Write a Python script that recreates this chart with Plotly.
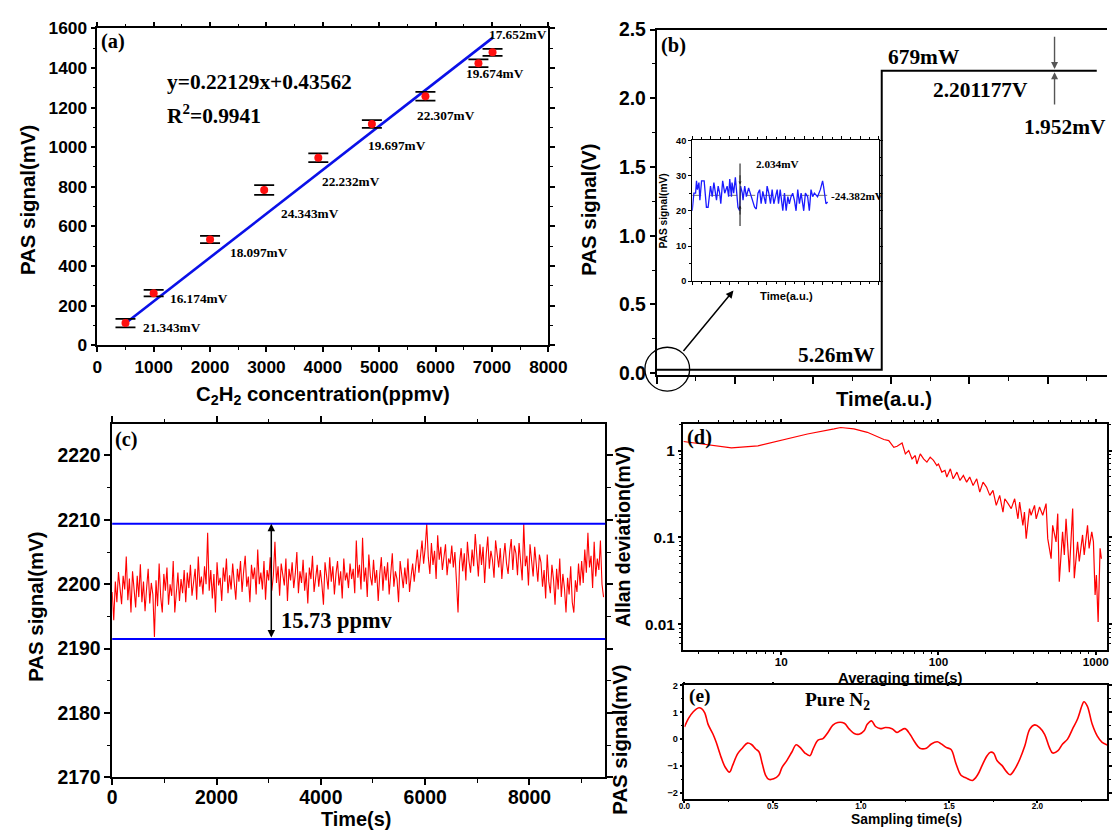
import plotly.graph_objects as go

# ---- page geometry --------------------------------------------------------
# The page keeps the browser's 8px body margin and the captured picture comes
# out slightly reduced, so reference pixel positions are mapped through that.
OFF = 8
SX = 0.984             # horizontal: picture = SX * page
AY, BY = 0.9775, 8.8   # vertical:   picture = AY * page + BY
W, H = 1118, 822
FS = 1.02  # font compensation for the reduction
SERIF = "Liberation Serif"
SANS = "Liberation Sans"
R_XMAX = SX * (W + OFF)  # right-most reachable reference x


def px(x):
    return (x / SX - OFF) / W


def py(y):
    return 1 - ((y - BY) / AY - OFF) / H


def fs(s):
    return round(s * FS, 1)


# ---------------- (a) calibration ----------------
conc_a = [500, 1000, 2000, 2960, 3920, 4870, 5820, 6760, 7010]
pas_a = [112, 263, 534, 784, 947, 1117, 1257, 1424, 1479]
err_a = [21.343, 16.174, 18.097, 24.343, 22.232, 19.697, 22.307, 19.674, 17.652]
err_text_a = ["21.343mV", "16.174mV", "18.097mV", "24.343mV", "22.232mV",
              "19.697mV", "22.307mV", "19.674mV", "17.652mV"]
fit_x_a = [500, 7010]
fit_y_a = [111, 1552]
xticks_a = [0, 1000, 2000, 3000, 4000, 5000, 6000, 7000, 8000]
yticks_a = [0, 200, 400, 600, 800, 1000, 1200, 1400, 1600]

# ---------------- (b) step response ----------------
time_b = [0, 2.88, 2.88, 5.63]
pas_b = [0.024, 0.024, 2.201, 2.201]
yticks_b = [0.0, 0.5, 1.0, 1.5, 2.0, 2.5]
noise_b = [2.459, 1.945]  # ends of the 1.952mV marker (V)
noise_x_b = 5.09

# inset of (b)
time_in = [0, 0.9, 1.8, 2.3, 2.8, 3.6, 4.1, 5.0, 6.4, 7.6, 8.5, 9.8, 10.7, 11.6,
           13.0, 13.9, 14.7, 15.3, 16.3, 17.4, 18.7, 19.5, 20.1, 21.0, 21.3, 22.2,
           23.1, 24.0, 24.5, 25.4, 25.9, 26.8, 27.2, 28.1, 29.0, 30.2, 31.1, 32.0,
           33.4, 34.3, 35.2, 36.1, 36.9, 37.8, 38.4, 39.3, 40.1, 41.0, 41.9, 42.8,
           43.7, 44.6, 45.5, 46.2, 47.1, 48.5, 49.4, 50.3, 51.2, 52.0, 52.9, 53.8,
           54.7, 55.6, 56.5, 57.4, 58.3, 59.7, 60.6, 61.8, 62.7, 63.6, 64.5, 65.4,
           67.1, 68.6, 69.8, 70.3, 71.1, 71.6, 72.5]
pas_in = [20, 25, 25, 28.5, 26, 28, 23, 28.5, 28.5, 21, 21, 27, 24, 28,
          23, 27, 25, 22, 28.5, 25, 27, 24, 29, 24, 28, 25,
          29.5, 25, 21, 20, 27, 25, 23, 27, 24, 26.5, 25, 24,
          21, 20.5, 25, 26, 22, 25.5, 24, 22, 27, 25, 22, 26,
          22, 24, 26, 22, 26, 20, 25, 20, 24, 22, 24, 25,
          23, 20, 26, 22, 25, 20, 25, 24, 20, 26, 24, 25,
          24, 26, 28.5, 27, 24, 22, 22.5]
mean_in = 24.382
mean_span_in = [0, 73.5]
marker_x_in = 25.6
marker_in = [15.7, 33.4]
yticks_in = [0, 10, 20, 30, 40]

# ---------------- (c) long-term stability ----------------
pas_c = [
    2198.8, 2194.4, 2200.4, 2197.2, 2201.9, 2198.8, 2196.9, 2201.3, 2199.2, 2204.3,
    2197.5, 2200.9, 2195.6, 2202.0, 2199.6, 2196.4, 2201.3, 2198.0, 2203.1, 2197.2,
    2200.4, 2195.8, 2199.4, 2202.4, 2197.0, 2200.2, 2198.4, 2191.8, 2200.6, 2196.6,
    2203.2, 2198.0, 2195.6, 2201.6, 2199.0, 2202.6, 2196.8, 2200.0, 2198.2, 2203.6,
    2195.6, 2199.6, 2201.8, 2197.4, 2200.8, 2198.6, 2202.2,
    2197.2, 2201.8, 2199.4, 2203.0, 2198.2, 2200.8, 2202.4, 2197.6, 2204.3, 2199.6,
    2201.2, 2198.4, 2202.8, 2200.0, 2208.0, 2199.0, 2202.2, 2197.8, 2201.6, 2195.6,
    2203.4, 2199.8, 2201.0, 2197.4, 2202.6, 2200.4, 2204.0, 2198.6, 2201.4, 2199.2,
    2203.2, 2200.2, 2197.6, 2202.4,
    2200.4, 2203.6, 2198.8, 2202.0, 2204.4, 2199.6, 2201.2, 2197.2, 2203.0, 2200.8,
    2202.6, 2198.4, 2205.4, 2200.0, 2201.8, 2199.2, 2203.6, 2197.6, 2202.2, 2200.6,
    2204.2, 2199.0, 2201.4, 2206.6, 2200.2, 2202.8, 2198.2, 2203.2, 2201.0, 2199.8,
    2204.0, 2197.4, 2202.4, 2200.6, 2203.4, 2199.4, 2201.6, 2205.0, 2198.6, 2202.0,
    2200.2, 2203.8, 2199.0, 2201.8, 2197.0, 2202.6, 2200.8, 2204.4, 2198.8, 2201.2,
    2203.0, 2199.6, 2202.2, 2200.0, 2196.8, 2203.4, 2201.4, 2199.2, 2204.2, 2200.4,
    2202.8, 2198.4, 2201.6, 2203.6, 2199.8, 2202.0, 2197.8, 2204.0, 2200.6, 2201.8,
    2199.4, 2203.2, 2200.8, 2202.4, 2198.6, 2206.8, 2201.0, 2203.0, 2199.2, 2207.2,
    2200.4, 2202.6, 2198.0, 2204.6, 2201.2, 2199.8, 2203.8, 2200.2, 2202.2, 2197.4,
    2201.6, 2204.2, 2199.0, 2202.8, 2200.6, 2203.4, 2198.4, 2201.4, 2204.8, 2199.6,
    2202.0, 2200.8, 2197.2, 2203.6, 2201.8, 2199.4, 2202.6, 2200.0, 2204.0, 2198.8,
    2201.2, 2203.2, 2200.4,
    2203.0, 2205.4, 2201.8, 2204.6, 2206.8, 2203.2, 2205.6,
    2209.4,
    2204.2, 2201.6, 2206.4, 2203.0, 2205.2, 2200.8, 2207.6, 2203.8, 2205.8, 2202.2,
    2204.6, 2206.2, 2201.4, 2204.0, 2203.2, 2206.0, 2202.6, 2205.0, 2200.4, 2195.6,
    2203.4, 2205.6, 2202.0, 2204.8, 2200.6, 2206.6, 2203.6, 2201.8, 2205.4, 2202.8,
    2207.8, 2204.4, 2201.2, 2206.2, 2203.0, 2205.8, 2200.2, 2204.6, 2207.4, 2202.4,
    2205.2, 2203.8, 2201.0, 2206.8, 2204.2, 2202.6, 2205.6, 2200.8, 2204.0, 2206.4,
    2203.2, 2201.6, 2205.0, 2207.0, 2202.2, 2206.0, 2204.8, 2201.4, 2206.4, 2203.6,
    2200.6, 2209.4, 2202.8, 2204.4, 2199.8, 2206.2, 2203.0, 2201.2, 2205.8, 2202.4,
    2200.4, 2204.6,
    2203.4, 2199.6, 2202.2, 2197.8, 2204.6, 2200.4, 2198.6, 2203.0, 2200.8, 2196.8,
    2202.4, 2199.2, 2204.0, 2198.0, 2201.6, 2199.4, 2195.6, 2201.0, 2198.4, 2202.8,
    2197.2, 2195.6, 2200.6, 2198.8, 2203.2, 2199.8,
    2203.6, 2200.2, 2205.4, 2201.8, 2208.0, 2202.6, 2204.4, 2199.4, 2206.6, 2201.2,
    2204.0, 2202.2, 2206.8, 2200.0, 2198.0,
]
sample_step_c = 30  # seconds between plotted samples
time_c = [i * sample_step_c for i in range(len(pas_c))]
limits_c = [2209.4, 2191.5]
arrow_x_c = 3050
xticks_c = [0, 2000, 4000, 6000, 8000]
yticks_c = [2170, 2180, 2190, 2200, 2210, 2220]

# ---------------- (d) Allan deviation ----------------
tau_d = [2.39, 3.13, 4.83, 7.12, 10, 14.7, 21.7, 23.9, 29.0, 35.3, 45.0, 48.3,
         52.0, 54.6, 58.7, 61.6, 64.7, 67.9, 71.2, 72.9, 76.6, 80.4, 84.4, 88.6,
         93.0, 97.6, 100, 105, 110, 113, 119, 124, 131, 137, 144, 151, 158, 166,
         175, 183, 192, 202, 212, 222, 233, 245, 257, 264, 277, 290, 305, 320,
         328, 344, 352, 361, 379, 388, 408, 418, 439, 460, 483, 495, 507, 520,
         532, 559, 573, 586, 615, 631, 647, 679, 713, 730, 766, 785, 824, 844,
         886, 907, 943, 966, 990, 1009, 1035, 1050, 1065, 1086]
adev_d = [1.27, 1.19, 1.07, 1.13, 1.30, 1.55, 1.77, 1.84, 1.77, 1.62, 1.34, 1.30,
          1.09, 1.12, 1.22, 0.916, 1.0, 0.80, 0.876, 0.70, 0.916, 0.80, 0.735, 0.84,
          0.77, 0.673, 0.70, 0.565, 0.59, 0.495, 0.616, 0.473, 0.565, 0.453, 0.517,
          0.433, 0.495, 0.397, 0.473, 0.333, 0.433, 0.38, 0.305, 0.348, 0.234, 0.305,
          0.196, 0.279, 0.245, 0.215, 0.279, 0.164, 0.255, 0.138, 0.196, 0.097, 0.215,
          0.18, 0.234, 0.164, 0.224, 0.18, 0.245, 0.097, 0.075, 0.057, 0.138, 0.089,
          0.188, 0.031, 0.116, 0.063, 0.164, 0.040, 0.215, 0.034, 0.089, 0.053, 0.107,
          0.063, 0.138, 0.075, 0.116, 0.089, 0.0218, 0.037, 0.0107, 0.044, 0.075, 0.057]
xticks_d = [10, 100, 1000]
yticks_d = [0.01, 0.1, 1]
yticktext_d = ["0.01", "0.1", "1"]
xminor_d = [3, 4, 5, 6, 7, 8, 9, 20, 30, 40, 50, 60, 70, 80, 90,
            200, 300, 400, 500, 600, 700, 800, 900]
yminor_d = [0.006, 0.007, 0.008, 0.009, 0.02, 0.03, 0.04, 0.05, 0.06, 0.07, 0.08,
            0.09, 0.2, 0.3, 0.4, 0.5, 0.6, 0.7, 0.8, 0.9, 2]

# ---------------- (e) pure N2 ----------------
t_e = [0, 0.022, 0.05, 0.082, 0.097, 0.115, 0.134, 0.162, 0.18, 0.208, 0.231,
       0.255, 0.273, 0.301, 0.329, 0.357, 0.38, 0.404, 0.422, 0.441, 0.46, 0.478,
       0.506, 0.534, 0.553, 0.58, 0.608, 0.633, 0.655, 0.683, 0.711, 0.729, 0.757,
       0.785, 0.813, 0.841, 0.869, 0.906, 0.934, 0.962, 0.99, 1.018, 1.036, 1.06,
       1.083, 1.11, 1.139, 1.176, 1.204, 1.222, 1.25, 1.278, 1.306, 1.334, 1.371,
       1.399, 1.433, 1.455, 1.483, 1.511, 1.539, 1.567, 1.594, 1.632, 1.66, 1.687,
       1.715, 1.734, 1.752, 1.771, 1.799, 1.827, 1.846, 1.873, 1.901, 1.929, 1.957,
       1.985, 2.013, 2.041, 2.068, 2.087, 2.117, 2.143, 2.171, 2.199, 2.227, 2.255,
       2.264, 2.283, 2.311, 2.339, 2.367, 2.398]
pas_e = [0.45, 0.76, 1.02, 1.17, 1.14, 0.98, 0.55, 0.18, -0.12, -0.68, -1.05,
         -1.23, -0.98, -0.55, -0.33, -0.15, -0.2, -0.37, -0.47, -0.92, -1.35, -1.5,
         -1.48, -1.35, -1.05, -0.8, -0.49, -0.21, -0.31, -0.52, -0.62, -0.37, -0.04,
         0.02, 0.25, 0.52, 0.62, 0.59, 0.37, 0.21, 0.18, 0.31, 0.55, 0.68,
         0.47, 0.39, 0.43, 0.39, 0.25, 0.31, 0.39, 0.18, -0.12, -0.34, -0.34,
         -0.18, -0.1, -0.18, -0.31, -0.39, -0.92, -1.35, -1.44, -1.54, -1.35, -0.98,
         -0.62, -0.49, -0.52, -0.8, -0.98, -1.23, -1.33, -1.11, -0.74, -0.25, 0.37,
         0.53, 0.43, 0.18, -0.31, -0.52, -0.43, -0.18, 0.0, 0.37, 0.74, 1.29,
         1.39, 1.23, 0.55, 0.12, -0.12, -0.22]

# ---- reference frame edges (pixels) and axis scales -------------------------
b_left, b_unit = 654.6, 78.7
b_right = min(1120, R_XMAX)
d_right = min(1110, R_XMAX)
e_right = min(1112, R_XMAX)
d_range_x = [0.379, 3 + (d_right - 1096.7) / 158.3]
e_range_x = [0, (e_right - 682.7) / 177.6]

# ======================================================
fig = go.Figure()

# (a)
fig.add_trace(go.Scatter(x=fit_x_a, y=fit_y_a, mode="lines",
                         line=dict(color="#0a10e8", width=2.6), xaxis="x", yaxis="y"))
fig.add_trace(go.Scatter(x=conc_a, y=pas_a, mode="markers",
                         marker=dict(color="#ff1010", size=8),
                         error_y=dict(type="data", array=err_a, color="black",
                                      thickness=1.8, width=10),
                         xaxis="x", yaxis="y"))
# (b)
fig.add_trace(go.Scatter(x=time_b, y=pas_b, mode="lines",
                         line=dict(color="black", width=2), xaxis="x2", yaxis="y2"))
fig.add_trace(go.Scatter(x=mean_span_in, y=[mean_in, mean_in], mode="lines",
                         line=dict(color="#777777", width=1, dash="dash"),
                         xaxis="x3", yaxis="y3"))
fig.add_trace(go.Scatter(x=time_in, y=pas_in, mode="lines",
                         line=dict(color="#1a1aff", width=1.3), xaxis="x3", yaxis="y3"))
fig.add_trace(go.Scatter(x=[marker_x_in, marker_x_in], y=marker_in, mode="lines",
                         line=dict(color="#333333", width=1.2), xaxis="x3", yaxis="y3"))
# (c)
fig.add_trace(go.Scatter(x=time_c, y=pas_c, mode="lines",
                         line=dict(color="#ff0000", width=1.1), xaxis="x4", yaxis="y4"))
# (d)
fig.add_trace(go.Scatter(x=tau_d, y=adev_d, mode="lines",
                         line=dict(color="#ff0000", width=1.2), xaxis="x5", yaxis="y5"))
# (e)
fig.add_trace(go.Scatter(x=t_e, y=pas_e, mode="lines",
                         line=dict(color="#ff0000", width=1.6, shape="spline"),
                         xaxis="x6", yaxis="y6"))


def tf(size):
    return dict(family=SANS, size=fs(size), color="black", weight="bold")


def axis(**kw):
    d = dict(showline=True, linecolor="black", linewidth=1.5, ticks="outside",
             tickcolor="black", tickwidth=1.5, ticklen=5, showgrid=False,
             zeroline=False, mirror="ticks", tickfont=tf(17))
    d.update(kw)
    return d


def minor(dt=None, n=3, **kw):
    d = dict(ticks="outside", ticklen=n, tickcolor="black", tickwidth=1.2, showgrid=False)
    if dt is not None:
        d["dtick"] = dt
    d.update(kw)
    return d


fig.update_layout(
    width=W, height=H, margin=dict(l=0, r=0, t=0, b=0),
    paper_bgcolor="white", plot_bgcolor="white", showlegend=False,
    # (a)
    xaxis=axis(domain=[px(91.7), px(545.7)], range=[0, 8000], anchor="y",
               tickmode="array", tickvals=xticks_a, minor=minor(500)),
    yaxis=axis(domain=[py(344.3), py(26)], range=[0, 1600], anchor="x",
               tickmode="array", tickvals=yticks_a, minor=minor(100)),
    # (b)
    xaxis2=axis(domain=[px(b_left), min(1.0, px(b_right))],
                range=[0, (b_right - b_left) / b_unit], anchor="y2", dtick=1,
                showticklabels=False, mirror=True, ticklen=7, minor=minor(0.5, 4)),
    yaxis2=axis(domain=[py(374), py(27.3)], range=[-0.012, 2.5], anchor="x2",
                tickmode="array", tickvals=yticks_b, tickformat=".1f", mirror=False,
                tickfont=tf(19), minor=minor(0.25, 3)),
    # inset
    xaxis3=axis(domain=[px(690.5), px(878.5)], range=[0, 100], anchor="y3", dtick=10,
                showticklabels=False, ticklen=3, linewidth=1.2, tickwidth=1,
                minor=minor(5, 2)),
    yaxis3=axis(domain=[py(280), py(138.5)], range=[0, 40], anchor="x3",
                tickmode="array", tickvals=yticks_in, ticklen=3, linewidth=1.2,
                tickwidth=1, tickfont=tf(9), minor=minor(5, 2)),
    # (c)
    xaxis4=axis(domain=[px(106.7), px(603)], range=[0, 9453], anchor="y4",
                tickmode="array", tickvals=xticks_c, ticklen=6, tickfont=tf(19),
                ticklabelstandoff=-4, minor=minor(1000, 3.5)),
    yaxis4=axis(domain=[py(778.3), py(423.3)], range=[2170, 2224.9], anchor="x4",
                tickmode="array", tickvals=yticks_c, ticklen=6, tickfont=tf(19),
                minor=minor(5, 3.5)),
    # (d)
    xaxis5=axis(domain=[px(681.7), min(1.0, px(d_right))], type="log", range=d_range_x,
                anchor="y5", tickmode="array", tickvals=xticks_d, ticklen=3,
                tickfont=tf(11.5), ticklabelstandoff=-3,
                minor=minor(n=2, tickmode="array", tickvals=xminor_d)),
    yaxis5=axis(domain=[py(650.5), py(423.3)], type="log", range=[-2.295, 0.306],
                anchor="x5", tickmode="array", tickvals=yticks_d, ticktext=yticktext_d,
                ticklen=4, tickfont=tf(15),
                minor=minor(n=2.5, tickmode="array", tickvals=yminor_d)),
    # (e)
    xaxis6=axis(domain=[px(682.7), min(1.0, px(e_right))], range=e_range_x, anchor="y6",
                dtick=0.5, tickformat=".1f", ticklen=1.5, tickfont=tf(8),
                ticklabelstandoff=-4, minor=minor(0.25, 1)),
    yaxis6=axis(domain=[py(800.5), py(686)], range=[-2.25, 2.0], anchor="x6",
                dtick=1, ticklen=3, tickfont=tf(9), minor=minor(0.5, 2)),
)

ann = []


def text(x, y, t, size, family=SERIF, xanchor="center", angle=0, color="black"):
    ann.append(dict(x=px(x), y=py(y), xref="paper", yref="paper", text=t,
                    showarrow=False, xanchor=xanchor, yanchor="middle",
                    textangle=angle,
                    font=dict(family=family, size=fs(size), color=color)))


# (a) texts
text(93, 39, "<b>(a)</b>", 20, xanchor="left")
text(159.6, 80, "<b>y=0.22129x+0.43562</b>", 21, xanchor="left")
text(160, 113, "<b>R<sup>2</sup>=0.9941</b>", 21, xanchor="left")
err_pos_a = [(167, 326), (194.5, 297.7), (254.5, 250.7), (306, 211.7), (347, 180),
             (393, 144), (442.5, 113.3), (491.6, 71), (515, 32.3)]
for (x, y), t in zip(err_pos_a, err_text_a):
    text(x, y, "<b>%s</b>" % t, 13)
text(21.4, 198, "<b>PAS signal(mV)</b>", 20, family=SANS, angle=-90)
text(318.5, 395, "<b>C<sub>2</sub>H<sub>2</sub> concentration(ppmv)</b>", 20, family=SANS)

# (b) texts
text(657, 43, "<b>(b)</b>", 20, xanchor="left")
text(923.5, 55, "<b>679mW</b>", 21)
text(980.5, 88, "<b>2.201177V</b>", 21)
text(1066, 125, "<b>1.952mV</b>", 21)
text(836, 354, "<b>5.26mW</b>", 21)
text(585.8, 208, "<b>PAS signal(V)</b>", 20, family=SANS, angle=-90)
text(884, 398, "<b>Time(a.u.)</b>", 20, family=SANS)
# inset texts
text(776, 162.3, "<b>2.034mV</b>", 11)
text(828, 194, "<b>-24.382mV</b>", 11, xanchor="left")
text(662, 209, "<b>PAS signal(mV)</b>", 10, family=SANS, angle=-90)
text(785, 295, "<b>Time(a.u.)</b>", 11, family=SANS)

# (c) texts
text(108, 439.3, "<b>(c)</b>", 20, xanchor="left")
text(332.7, 620.7, "<b>15.73 ppmv</b>", 22)
text(30, 607, "<b>PAS signal(mV)</b>", 20, family=SANS, angle=-90)
text(352, 820, "<b>Time(s)</b>", 19.5, family=SANS)

# (d) texts
text(683, 436.7, "<b>(d)</b>", 20, xanchor="left")
text(620.7, 536, "<b>Allan deviation(mV)</b>", 19, family=SANS, angle=-90)
text(900, 678.5, "<b>Averaging time(s)</b>", 14.5, family=SANS)

# (e) texts
text(685, 696.7, "<b>(e)</b>", 19, xanchor="left")
text(837, 701.7, "<b>Pure N<sub>2</sub></b>", 19)
text(618.3, 740, "<b>PAS signal(mV)</b>", 20, family=SANS, angle=-90)
text(906, 820.5, "<b>Sampling time(s)</b>", 13.5, family=SANS)

# arrows: (b) 1.952 mV marker
for tail, head in ((noise_b[0], pas_b[-1] + 0.012), (noise_b[1], pas_b[-1] - 0.012)):
    ann.append(dict(x=noise_x_b, y=head, xref="x2", yref="y2", ax=noise_x_b,
                    ay=tail, axref="x2", ayref="y2", text="", showarrow=True,
                    arrowhead=2, arrowsize=1, arrowwidth=1.4, arrowcolor="#555555",
                    standoff=0))
# inset small arrows
for tail, head in ((30.5, 27.5), (18.5, 21.5)):
    ann.append(dict(x=marker_x_in, y=head, xref="x3", yref="y3", ax=marker_x_in,
                    ay=tail, axref="x3", ayref="y3", text="", showarrow=True,
                    arrowhead=2, arrowsize=0.6, arrowwidth=1, arrowcolor="#222222",
                    standoff=0))
# zoom arrow from circle to inset
ann.append(dict(x=px(732), y=py(289.3), xref="paper", yref="paper",
                ax=-50.4 / SX, ay=60.7 / AY,
                text="", showarrow=True, arrowhead=2, arrowsize=1, arrowwidth=1.5,
                arrowcolor="black", standoff=0))
# (c) double arrow
ann.append(dict(x=arrow_x_c, y=limits_c[0], xref="x4", yref="y4", ax=arrow_x_c,
                ay=limits_c[1], axref="x4", ayref="y4", text="", showarrow=True,
                arrowhead=2, startarrowhead=2, arrowside="end+start", arrowsize=1,
                arrowwidth=1.5, arrowcolor="black", standoff=0, startstandoff=0))

shapes = []
# (c) blue bounds
for yv in limits_c:
    shapes.append(dict(type="line", xref="x4 domain", yref="y4", x0=0, x1=1,
                       y0=yv, y1=yv, line=dict(color="#0000ff", width=2)))
# (b) circle around the baseline
shapes.append(dict(type="circle", xref="paper", yref="paper",
                   x0=px(665.4 - 22.5), x1=px(665.4 + 22.5),
                   y0=py(368.3 + 22), y1=py(368.3 - 22),
                   line=dict(color="black", width=1.3)))

fig.update_layout(annotations=ann, shapes=shapes)

fig.write_html("out.html", config={"displayModeBar": False})
